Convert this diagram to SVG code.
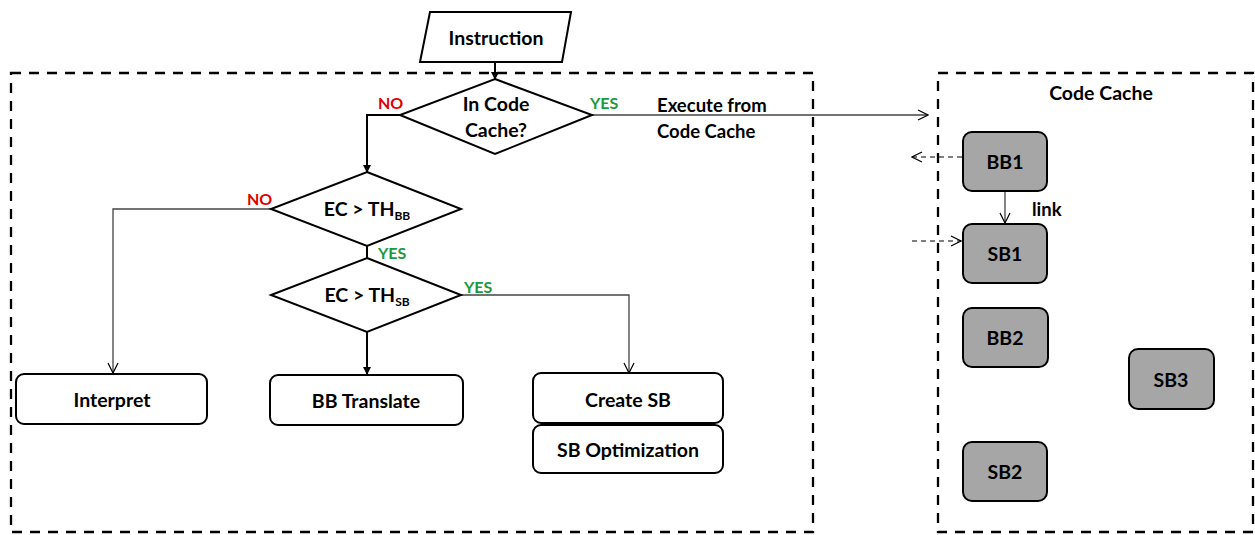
<svg xmlns="http://www.w3.org/2000/svg" width="1255" height="535" viewBox="0 0 1255 535">
  <style>
    .frame { fill: none; stroke: #000; stroke-width: 2.3; stroke-dasharray: 10 8; }
    .shape { fill: #fff; stroke: #000; stroke-width: 2; }
    .block { fill: #a6a6a6; stroke: #000; stroke-width: 2; }
    .lbl { font-family: Lato, "Open Sans", "Liberation Sans", sans-serif; font-weight: bold; font-size: 19.5px; fill: #000; text-anchor: middle; }
    .txt { font-family: Lato, "Open Sans", "Liberation Sans", sans-serif; font-weight: bold; font-size: 18.5px; fill: #000; }
    .no { font-family: Lato, "Liberation Sans", sans-serif; font-weight: bold; font-size: 16px; fill: #e00000; }
    .yes { font-family: Lato, "Liberation Sans", sans-serif; font-weight: bold; font-size: 16px; fill: #1a9a3c; }
    .thick { fill: none; stroke: #000; stroke-width: 2; }
    .thin { fill: none; stroke: #444; stroke-width: 1.3; }
    .dash { fill: none; stroke: #000; stroke-width: 1.2; stroke-dasharray: 5 4; }
  </style>
  <defs>
    <marker id="solid" markerWidth="8" markerHeight="8" refX="7" refY="4" orient="auto" markerUnits="userSpaceOnUse">
      <path d="M0,0 L8,4 L0,8 Z" fill="#000"/>
    </marker>
    <marker id="open" markerWidth="12" markerHeight="12" refX="11" refY="6" orient="auto" markerUnits="userSpaceOnUse">
      <path d="M1,1 L11,6 L1,11" fill="none" stroke="#000" stroke-width="1.2"/>
    </marker>
  </defs>

  <!-- dashed enclosures -->
  <rect class="frame" x="11" y="73" width="802" height="459"/>
  <rect class="frame" x="938" y="73" width="315" height="459"/>
  <text class="lbl" x="1101" y="100">Code Cache</text>

  <!-- connectors -->
  <g id="connectors">
    <path class="thick" d="M495,62 V79" marker-end="url(#solid)"/>
    <path class="thick" d="M400,115 H367 V172" marker-end="url(#solid)"/>
    <path class="thin" d="M592,115 H928" marker-end="url(#open)"/>
    <path class="thin" d="M272,209 H113 V373" marker-end="url(#open)"/>
    <path class="thick" d="M367,246 V258"/>
    <path class="thin" d="M461,295 H629 V373" marker-end="url(#open)"/>
    <path class="thick" d="M367,332 V374" marker-end="url(#solid)"/>
    <path class="thin" d="M1005,191 V223" marker-end="url(#open)"/>
    <path class="dash" d="M962,157 H912" marker-end="url(#open)"/>
    <path class="dash" d="M912,241 H961" marker-end="url(#open)"/>
    <text class="no" x="378" y="109">NO</text>
    <text class="yes" x="590" y="109">YES</text>
    <text class="no" x="247" y="205">NO</text>
    <text class="yes" x="378" y="259">YES</text>
    <text class="yes" x="464" y="293">YES</text>
    <text class="txt" x="657" y="112">Execute from</text>
    <text class="txt" x="657" y="138">Code Cache</text>
    <text class="txt" x="1032" y="216">link</text>
  </g>

  <g id="instruction">
    <polygon class="shape" points="430,12 571,12 562,62 420,62"/>
    <text class="lbl" x="496" y="45">Instruction</text>
  </g>

  <g id="in-code-cache">
    <polygon class="shape" points="495,79 592,115 495,154 400,115"/>
    <text class="lbl" x="496" y="111">In Code</text>
    <text class="lbl" x="496" y="137">Cache?</text>
  </g>

  <g id="ec-th-bb">
    <polygon class="shape" points="367,172 461,209 367,246 271,209"/>
    <text class="lbl" x="367" y="216">EC &gt; TH<tspan font-size="12" dy="4">BB</tspan></text>
  </g>

  <g id="ec-th-sb">
    <polygon class="shape" points="367,258 461,295 367,332 271,295"/>
    <text class="lbl" x="367" y="302">EC &gt; TH<tspan font-size="12" dy="4">SB</tspan></text>
  </g>

  <g id="interpret">
    <rect class="shape" x="16" y="374" width="191" height="50" rx="8"/>
    <text class="lbl" x="112" y="407">Interpret</text>
  </g>

  <g id="bb-translate">
    <rect class="shape" x="270" y="375" width="193" height="50" rx="8"/>
    <text class="lbl" x="366" y="408">BB Translate</text>
  </g>

  <g id="create-sb">
    <rect class="shape" x="533" y="373" width="190" height="50" rx="8"/>
    <text class="lbl" x="628" y="407">Create SB</text>
  </g>

  <g id="sb-optimization">
    <rect class="shape" x="533" y="425" width="190" height="48" rx="8"/>
    <text class="lbl" x="628" y="457">SB Optimization</text>
  </g>

  <g id="bb1">
    <rect class="block" x="963" y="132" width="84" height="59" rx="9"/>
    <text class="lbl" x="1005" y="169">BB1</text>
  </g>
  <g id="sb1">
    <rect class="block" x="963" y="224" width="84" height="59" rx="9"/>
    <text class="lbl" x="1005" y="261">SB1</text>
  </g>
  <g id="bb2">
    <rect class="block" x="963" y="308" width="85" height="59" rx="9"/>
    <text class="lbl" x="1005" y="345">BB2</text>
  </g>
  <g id="sb3">
    <rect class="block" x="1129" y="349" width="85" height="60" rx="9"/>
    <text class="lbl" x="1171" y="387">SB3</text>
  </g>
  <g id="sb2">
    <rect class="block" x="963" y="442" width="84" height="59" rx="9"/>
    <text class="lbl" x="1005" y="479">SB2</text>
  </g>
</svg>
